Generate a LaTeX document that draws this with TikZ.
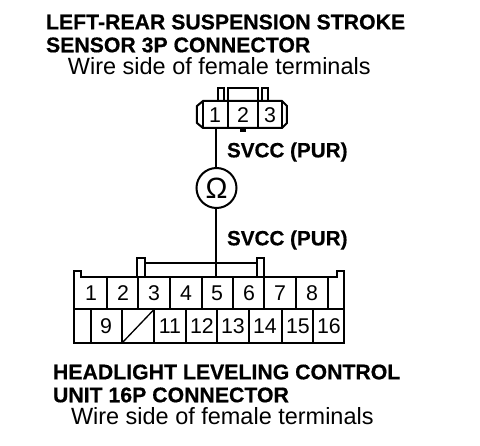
\documentclass[tikz,border=0pt]{standalone}
\usepackage{fontspec}
\setmainfont{Liberation Sans}
\newfontfamily\heavyfont[BoldFeatures={FakeBold=0.5}]{Liberation Sans}
\usetikzlibrary{positioning}
\begin{document}
\begin{tikzpicture}[x=0.75pt,y=-0.75pt,
        line width=1.5pt,
        pin/.style = {draw=none, inner sep=0pt, font=\fontsize{16}{16}\selectfont},
        title/.style = {draw=none, inner sep=0pt, anchor=west, align=left, font=\heavyfont\bfseries\fontsize{15.95}{17.2}\selectfont},
        sub/.style = {draw=none, inner sep=0pt, anchor=west, font=\fontsize{17.6}{18}\selectfont},
        wirename/.style = {draw=none, inner sep=0pt, anchor=west, font=\heavyfont\bfseries\fontsize{15.5}{16}\selectfont},
    ]
    \useasboundingbox (0,0) rectangle (480,446);

    % top text
    \node[title] (toptitle) at (45,33.5) {LEFT-REAR SUSPENSION STROKE\\SENSOR 3P CONNECTOR};
    \node[sub] (topsub) at (67,66) {Wire side of female terminals};

    % 3P connector
    \draw (197,106) -- (203,101) -- (282,101) -- (287,106) -- (287,123) -- (282,128) -- (203,128) -- (197,123) -- cycle;
    \draw (203,101) -- (203,128) (282,101) -- (282,128);
    \draw (228,128) -- (228,88) -- (258,88) -- (258,128);
    \draw (218,101) -- (218,88) -- (224,88) -- (224,101);
    \draw (262,101) -- (262,88) -- (268,88) -- (268,101);
    \fill (240,128) rectangle (246,132);
    \node[pin] (p1) at (215,115) {1};
    \node[pin] (p2) at (243,115) {2};
    \node[pin] (p3) at (270,115) {3};
    \coordinate (p1b) at (216.5,128);

    % meter
    \node[draw, circle, minimum size=30pt, inner sep=0pt, font=\fontsize{22}{22}\selectfont] (ohm) at (216.5,188) {Ω};
    \draw (p1b) -- (ohm);

    \node[wirename] (wa) at (226,152) {SVCC (PUR)};
    \node[wirename] (wb) at (226,240) {SVCC (PUR)};

    % 16P connector
    \draw (74,343) -- (74,271) -- (81,271) -- (81,277) -- (337,277) -- (337,271) -- (344,271) -- (344,343) -- cycle;
    \draw (74,309.5) -- (344,309.5);
    \draw (137,277) -- (137,258) -- (145,258) -- (145,277);
    \draw (257,277) -- (257,258) -- (264,258) -- (264,277);
    \draw (145,263.5) -- (257,263.5);
    \foreach \x in {107,138,170,202,233,264,296,328}
        \draw (\x,277) -- (\x,309.5);
    \foreach \x in {91,122,154,186,217,249,282,313}
        \draw (\x,309.5) -- (\x,343);
    \draw[line width=1pt] (122,343) -- (154,309.5);
    \foreach \n/\x in {1/91,2/123,3/154,4/186,5/217,6/249,7/280,8/312}
        \node[pin] (a\n) at (\x,293) {\n};
    \foreach \n/\x in {9/106,11/170,12/202,13/233,14/265,15/298,16/329}
        \node[pin] (a\n) at (\x,326) {\n};
    \coordinate (a5t) at (216.5,277);
    \draw (ohm) -- (a5t);

    % bottom text
    \node[title] (bottitle) at (52,383.5) {HEADLIGHT LEVELING CONTROL\\UNIT 16P CONNECTOR};
    \node[sub] (botsub) at (70,416.5) {Wire side of female terminals};
\end{tikzpicture}
\end{document}
